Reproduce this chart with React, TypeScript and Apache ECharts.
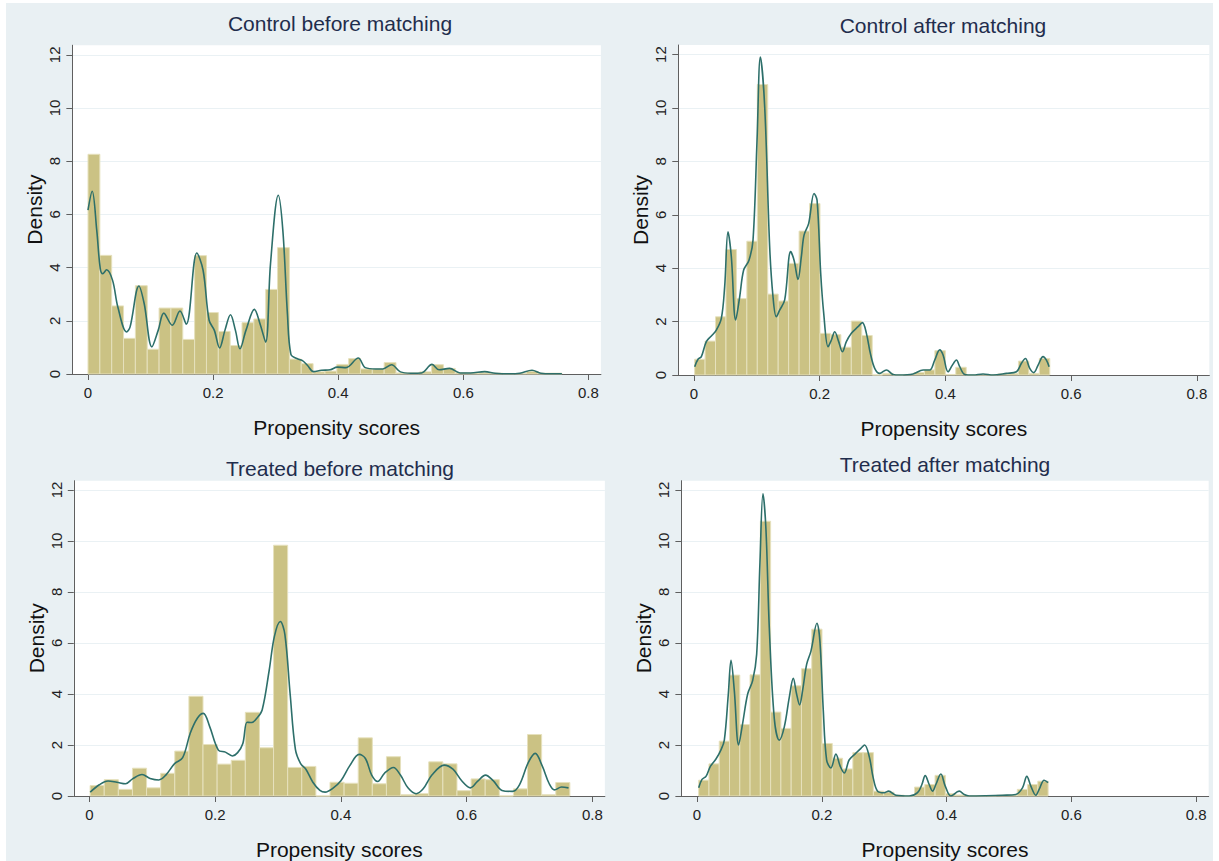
import React, { useEffect, useRef } from "react";
import * as echarts from "echarts";

// ---------- DATA ----------
const PANEL_TITLES = ["Control before matching", "Control after matching", "Treated before matching", "Treated after matching"];
const X_AXIS_NAME = "Propensity scores";
const Y_AXIS_NAME = "Density";
const X_TICKS = [0, 0.2, 0.4, 0.6, 0.8];
const X_TICK_LABELS = ["0", "0.2", "0.4", "0.6", "0.8"];
const Y_TICKS = [0, 2, 4, 6, 8, 10, 12];
const Y_TICK_LABELS = ["0", "2", "4", "6", "8", "10", "12"];

// histogram bins: start, width, heights
const cbStart = 0;
const cbWidth = 0.01894;
const cbBars = [8.26, 4.46, 2.56, 1.34, 3.32, 0.93, 2.48, 2.48, 1.30, 4.45, 2.31, 1.60, 1.07, 1.93, 2.07, 3.18, 4.75, 0.56, 0.39, 0.08, 0.11, 0.36, 0.58, 0.19, 0.19, 0.43, 0.04, 0.04, 0.08, 0.35, 0.21, 0.05, 0.04, 0.05, 0.03, 0.02, 0.02, 0.09, 0.03, 0.03];

const caStart = 0.001;
const caWidth = 0.01662;
const caBars = [0.59, 1.27, 2.18, 4.70, 2.86, 5.01, 10.88, 3.03, 2.77, 4.18, 5.39, 6.42, 1.56, 1.51, 1.04, 2.02, 1.48, 0, 0.06, 0, 0.02, 0.09, 0.19, 0.91, 0.02, 0.29, 0, 0.01, 0.01, 0.04, 0.06, 0.52, 0.06, 0.62];

const tbStart = 0.001;
const tbWidth = 0.02245;
const tbBars = [0.41, 0.64, 0.26, 1.09, 0.32, 0.89, 1.76, 3.91, 2.02, 1.25, 1.40, 3.28, 1.89, 9.83, 1.12, 1.16, 0, 0.54, 0.50, 2.28, 0.48, 1.54, 0.05, 0.09, 1.34, 1.26, 0.21, 0.67, 0.64, 0, 0.28, 2.41, 0.05, 0.53];

const taStart = 0.0027;
const taWidth = 0.01647;
const taBars = [0.62, 1.26, 2.15, 4.74, 2.80, 4.75, 10.77, 3.29, 2.65, 4.32, 4.99, 6.54, 2.06, 1.48, 1.06, 1.70, 1.70, 0.19, 0.15, 0.03, 0, 0.35, 0.45, 0.81, 0.09, 0.04, 0.01, 0.01, 0.01, 0.03, 0.04, 0.26, 0.45, 0.58];

// kernel density curves: [x, density]
const cbCurve = [
  [0, 6.16], [0.0067, 6.87], [0.014, 5.4], [0.0196, 3.96], [0.0236, 3.77], [0.0297, 3.92], [0.0393, 3.52], [0.0477, 2.52],
  [0.0617, 1.58], [0.0673, 1.77], [0.0814, 3.31], [0.0898, 2.65], [0.1021, 1.02], [0.1122, 1.64], [0.1212, 2.29], [0.1347, 1.83],
  [0.147, 2.37], [0.1571, 1.87], [0.174, 4.55], [0.184, 3.9], [0.1936, 2.02], [0.202, 1.64], [0.2104, 0.98], [0.2189, 1.64],
  [0.2278, 2.23], [0.2357, 1.64], [0.243, 0.95], [0.2525, 1.64], [0.266, 2.43], [0.275, 1.89], [0.284, 1.2], [0.2918, 4.15],
  [0.3042, 6.72], [0.3115, 5.4], [0.3188, 2.27], [0.3244, 0.74], [0.3339, 0.58], [0.3423, 0.51], [0.3507, 0.33], [0.3603, 0.09],
  [0.3732, 0.14], [0.3872, 0.16], [0.3985, 0.26], [0.4125, 0.24], [0.4321, 0.6], [0.4433, 0.24], [0.4602, 0.19], [0.4714, 0.19],
  [0.4854, 0.35], [0.4995, 0.08], [0.5163, 0.03], [0.5331, 0.04], [0.55, 0.36], [0.5612, 0.16], [0.578, 0.21], [0.5949, 0.04],
  [0.6117, 0.04], [0.6342, 0.09], [0.651, 0.03], [0.6734, 0.01], [0.6903, 0.03], [0.7099, 0.14], [0.724, 0.03], [0.7408, 0.01], [0.7576, 0.01],
];

const caCurve = [
  [0.0011, 0.31], [0.0064, 0.59], [0.0117, 0.69], [0.0196, 1.25], [0.0276, 1.46], [0.0355, 1.68], [0.0435, 2.12], [0.0488, 3.31],
  [0.0541, 5.36], [0.0594, 4.43], [0.0663, 2.06], [0.0727, 2.93], [0.079, 3.93], [0.0875, 4.3], [0.0939, 5.05], [0.1003, 8.79],
  [0.1056, 11.91], [0.1125, 10.04], [0.1204, 4.8], [0.1257, 2.93], [0.131, 2.18], [0.1363, 2.43], [0.1443, 2.81], [0.1538, 4.62],
  [0.1592, 4.3], [0.1655, 3.58], [0.1708, 4.43], [0.1751, 5.24], [0.1825, 5.68], [0.191, 6.8], [0.1958, 6.55], [0.2016, 3.8],
  [0.2064, 2.31], [0.2133, 1.06], [0.2186, 1.31], [0.2239, 1.62], [0.2302, 1.25], [0.2361, 0.87], [0.2424, 1.25], [0.2504, 1.56],
  [0.261, 1.81], [0.2679, 1.96], [0.2743, 1.56], [0.2806, 0.81], [0.2875, 0.25], [0.2955, 0.06], [0.3061, 0.19], [0.3167, 0.02],
  [0.3273, 0], [0.3485, 0.04], [0.3645, 0.19], [0.3751, 0.19], [0.383, 0.56], [0.391, 0.94], [0.3963, 0.75], [0.4042, 0.12],
  [0.4111, 0.37], [0.4175, 0.56], [0.4228, 0.31], [0.4308, 0.02], [0.444, 0], [0.4599, 0.04], [0.4759, 0], [0.4971, 0.06],
  [0.513, 0.12], [0.521, 0.44], [0.5273, 0.62], [0.5342, 0.25], [0.5406, 0.09], [0.5475, 0.37], [0.5554, 0.69], [0.5607, 0.56], [0.565, 0.31],
];

const tbCurve = [
  [0.0011, 0.15], [0.0156, 0.44], [0.0295, 0.59], [0.0435, 0.54], [0.0574, 0.48], [0.0685, 0.67], [0.0836, 0.84], [0.0964, 0.69],
  [0.1103, 0.63], [0.1214, 0.82], [0.1354, 1.27], [0.1482, 1.5], [0.1604, 2.47], [0.1716, 3.05], [0.1811, 3.24], [0.1911, 2.73],
  [0.205, 1.8], [0.2162, 1.72], [0.2273, 1.57], [0.2357, 1.7], [0.244, 2.06], [0.2507, 2.89], [0.2579, 2.88], [0.2663, 3.05],
  [0.2747, 3.37], [0.2858, 4.91], [0.2942, 6.26], [0.3036, 6.84], [0.3109, 6.33], [0.3192, 4.01], [0.3276, 1.83], [0.3359, 1.27],
  [0.3443, 1.05], [0.3554, 0.54], [0.3666, 0.22], [0.3749, 0.15], [0.3861, 0.28], [0.4, 0.6], [0.4139, 1.18], [0.429, 1.63],
  [0.439, 1.47], [0.449, 0.82], [0.4585, 0.57], [0.4696, 0.9], [0.4836, 1.12], [0.4947, 0.82], [0.507, 0.31], [0.5198, 0.09],
  [0.5309, 0.28], [0.5448, 0.82], [0.5643, 1.21], [0.5783, 1.05], [0.5922, 0.6], [0.6061, 0.32], [0.6173, 0.57], [0.6301, 0.82],
  [0.6423, 0.6], [0.6563, 0.22], [0.673, 0.18], [0.6841, 0.44], [0.6981, 1.31], [0.7092, 1.67], [0.7203, 1.18], [0.7315, 0.48],
  [0.7398, 0.24], [0.751, 0.35], [0.7621, 0.32],
];

const taCurve = [
  [0.0027, 0.32], [0.008, 0.65], [0.0144, 0.77], [0.0214, 1.16], [0.0304, 1.45], [0.0384, 1.81], [0.0438, 2.19], [0.0502, 4.0],
  [0.0545, 5.32], [0.0598, 4.13], [0.0667, 2.0], [0.0731, 2.84], [0.0812, 4.0], [0.0892, 4.52], [0.0956, 5.55], [0.1009, 9.16],
  [0.1057, 11.85], [0.1105, 10.45], [0.1159, 6.58], [0.1239, 3.03], [0.1319, 2.19], [0.1399, 2.71], [0.1479, 3.87], [0.1543, 4.61],
  [0.1596, 4.0], [0.1644, 3.57], [0.1692, 4.13], [0.1757, 5.16], [0.1826, 5.68], [0.1922, 6.77], [0.197, 6.06], [0.2024, 3.35],
  [0.2077, 1.42], [0.2146, 1.1], [0.2226, 1.64], [0.2296, 1.16], [0.236, 0.9], [0.244, 1.42], [0.2547, 1.68], [0.2627, 1.87],
  [0.2686, 2.0], [0.276, 1.55], [0.2824, 0.71], [0.2894, 0.19], [0.3, 0.13], [0.307, 0.19], [0.3187, 0.03], [0.3401, 0],
  [0.3534, 0.13], [0.3604, 0.45], [0.3657, 0.8], [0.3721, 0.45], [0.3775, 0.19], [0.3828, 0.45], [0.3908, 0.86], [0.3978, 0.39],
  [0.4068, 0], [0.4202, 0.19], [0.4282, 0.06], [0.4362, 0], [0.4629, 0.01], [0.4896, 0.03], [0.5109, 0.06], [0.5216, 0.32],
  [0.5286, 0.77], [0.535, 0.39], [0.543, 0.03], [0.5483, 0.26], [0.5563, 0.62], [0.5627, 0.52],
];

// ---------- LAYOUT ----------
const X_MIN = -0.025;
const X_MAX = 0.82;
const Y_MAX = 12.36;
// pixel of x=0, px per x unit, pixel of y=0, px per y unit
const PANELS = [
  { x0: 88, sx: 625.5, y0: 374, sy: 26.6, titleX: 340, titleY: 23 },
  { x0: 694, sx: 628.5, y0: 375, sy: 26.7, titleX: 943, titleY: 25 },
  { x0: 89.5, sx: 628.5, y0: 800.7, sy: 25.89, titleX: 340, titleY: 468 },
  { x0: 697, sx: 624, y0: 800.7, sy: 25.89, titleX: 945, titleY: 464 },
];

const BAR_SETS = [
  { start: cbStart, width: cbWidth, bars: cbBars },
  { start: caStart, width: caWidth, bars: caBars },
  { start: tbStart, width: tbWidth, bars: tbBars },
  { start: taStart, width: taWidth, bars: taBars },
];
const CURVES = [cbCurve, caCurve, tbCurve, taCurve];

const FONT = "'Liberation Sans', Arial, sans-serif";
const BAR_FILL = "#cbc284";
const BAR_EDGE = "#e6e1bd";
const LINE_COLOR = "#2d6f6a";
const AXIS_COLOR = "#5f5f5f";

export default function App() {
  const ref = useRef<HTMLDivElement>(null);

  useEffect(() => {
    if (!ref.current) return;
    const chart = echarts.init(ref.current, null, { renderer: "svg" });

    const grids: any[] = [];
    const xAxes: any[] = [];
    const yAxes: any[] = [];
    const series: any[] = [];
    const graphics: any[] = [];

    PANELS.forEach((p, i) => {
      const left = p.x0 + X_MIN * p.sx;
      const right = p.x0 + X_MAX * p.sx;
      const top = p.y0 - Y_MAX * p.sy;
      grids.push({
        left,
        top,
        width: right - left,
        height: p.y0 - top,
        show: true,
        backgroundColor: "#ffffff",
        borderWidth: 0,
        containLabel: false,
      });
      xAxes.push({
        type: "value",
        gridIndex: i,
        min: X_MIN,
        max: X_MAX,
        name: X_AXIS_NAME,
        nameLocation: "middle",
        nameGap: 43,
        nameTextStyle: { fontSize: 21, color: "#111", fontFamily: FONT },
        axisLine: { show: true, onZero: false, lineStyle: { color: AXIS_COLOR, width: 1 } },
        axisTick: { show: true, length: 6, customValues: X_TICKS, lineStyle: { color: AXIS_COLOR } },
        axisLabel: {
          customValues: X_TICKS,
          fontSize: 15,
          color: "#222",
          fontFamily: FONT,
          margin: 11,
          formatter: (v: number) => {
            const k = X_TICKS.findIndex((t) => Math.abs(t - v) < 1e-9);
            return k >= 0 ? X_TICK_LABELS[k] : "";
          },
        },
        splitLine: { show: false },
      });
      yAxes.push({
        type: "value",
        gridIndex: i,
        min: 0,
        max: Y_MAX,
        name: Y_AXIS_NAME,
        nameLocation: "middle",
        nameRotate: 90,
        nameGap: 27,
        nameTextStyle: { fontSize: 21, color: "#111", fontFamily: FONT },
        axisLine: { show: true, onZero: false, lineStyle: { color: AXIS_COLOR, width: 1 } },
        axisTick: { show: true, length: 6, customValues: Y_TICKS, lineStyle: { color: AXIS_COLOR } },
        axisLabel: {
          customValues: Y_TICKS,
          rotate: 90,
          fontSize: 15,
          color: "#222",
          fontFamily: FONT,
          margin: 10,
          formatter: (v: number) => {
            const k = Y_TICKS.findIndex((t) => Math.abs(t - v) < 1e-9);
            return k >= 0 ? Y_TICK_LABELS[k] : "";
          },
        },
        splitLine: { show: true, lineStyle: { color: "#eaf1f4", width: 1.2 } },
      });

      const bs = BAR_SETS[i];
      series.push({
        type: "custom",
        xAxisIndex: i,
        yAxisIndex: i,
        coordinateSystem: "cartesian2d",
        encode: { x: [0, 1], y: 2 },
        data: bs.bars.map((h, k) => [bs.start + k * bs.width, bs.start + (k + 1) * bs.width, h]),
        renderItem: (params: any, api: any) => {
          const a = api.coord([api.value(0), api.value(2)]);
          const b = api.coord([api.value(1), 0]);
          return {
            type: "rect",
            shape: { x: a[0], y: a[1], width: b[0] - a[0], height: b[1] - a[1] },
            style: { fill: BAR_FILL, stroke: BAR_EDGE, lineWidth: 1 },
          };
        },
        z: 2,
        silent: true,
      });
      series.push({
        type: "line",
        xAxisIndex: i,
        yAxisIndex: i,
        data: CURVES[i],
        showSymbol: false,
        smooth: 0.35,
        lineStyle: { color: LINE_COLOR, width: 1.6 },
        z: 3,
        silent: true,
      });

      graphics.push({
        type: "text",
        x: p.titleX,
        y: p.titleY,
        style: {
          text: PANEL_TITLES[i],
          fontSize: 21,
          fontFamily: FONT,
          fill: "#1f2d4d",
          align: "center",
          verticalAlign: "middle",
        },
      });
    });

    chart.setOption({
      animation: false,
      backgroundColor: "transparent",
      grid: grids,
      xAxis: xAxes,
      yAxis: yAxes,
      series,
      graphic: graphics,
    });

    return () => chart.dispose();
  }, []);

  return (
    <div style={{ position: "absolute", left: 0, top: 0, width: 1219, height: 861, background: "#ffffff", overflow: "hidden" }}>
      <div style={{ position: "absolute", left: 6, top: 3, width: 1207, height: 858, background: "#e9f0f3" }} />
      <div ref={ref} style={{ position: "absolute", left: 0, top: 0, width: 1219, height: 861 }} />
    </div>
  );
}
